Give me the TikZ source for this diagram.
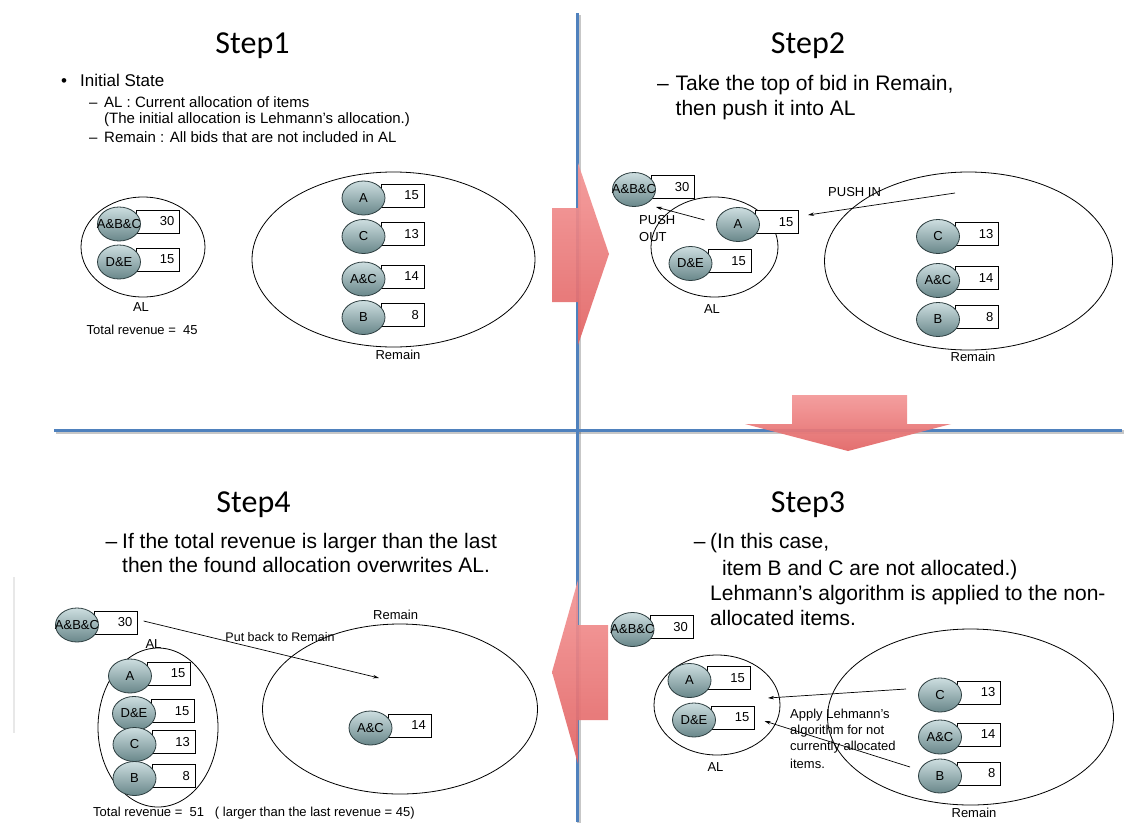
\documentclass[tikz,border=0pt]{standalone}
\usepackage{fontspec}
\setmainfont{Liberation Sans}
\newfontfamily\titlefont{Carlito}
\usetikzlibrary{shapes.geometric,arrows.meta,shadings}
\definecolor{divblue}{RGB}{79,129,189}
\definecolor{elltop}{RGB}{205,222,224}
\definecolor{ellbot}{RGB}{105,135,138}
\definecolor{ellline}{RGB}{45,62,64}
\definecolor{arrowtop}{RGB}{244,152,152}
\definecolor{arrowbot}{RGB}{226,100,100}
\definecolor{faint}{RGB}{232,232,232}
\tikzset{
  bidell/.style={ellipse, draw=ellline, line width=0.8pt, top color=elltop, bottom color=ellbot,
    minimum width=43pt, minimum height=34pt, inner sep=0pt, font=\fontsize{13}{13}\selectfont},
  bidbox/.style={draw=black, line width=0.8pt, fill=white, text width=33pt, align=right,
    inner xsep=5pt, inner ysep=0pt, minimum height=23pt, font=\fontsize{13}{13}\selectfont},
  container/.style={ellipse, draw=black, line width=0.8pt, inner sep=0pt},
  small/.style={font=\fontsize{13}{15}\selectfont, inner sep=0pt},
  bigtxt/.style={font=\fontsize{21}{25}\selectfont, inner sep=0pt, anchor=base west},
  midtxt/.style={font=\fontsize{15}{17}\selectfont, inner sep=0pt, anchor=base west},
  toptxt/.style={font=\fontsize{17}{19}\selectfont, inner sep=0pt, anchor=base west},
  ttl/.style={font=\titlefont\fontsize{32}{32}\selectfont, inner sep=0pt, anchor=base},
  thinarrow/.style={-{Stealth[length=6pt,width=3.5pt]}, line width=0.7pt},
  divider/.style={line width=3pt, draw=divblue},
  divshadow/.style={line width=3.5pt, draw=black, opacity=0.22},
  bigarrow/.style={top color=arrowtop, bottom color=arrowbot, draw=none, opacity=0.93}
}
\newcommand{\bidpair}[5]{%
  \node[bidbox, anchor=west] (#1v) at ({#2+17},{#3-2.5}) {#5};
  \node[bidell] (#1) at (#2,#3) {\makebox[0pt]{#4}};
}
\begin{document}
\begin{tikzpicture}[x=1pt,y=-1pt]
\fill[white] (0,0) rectangle (1140,822);
\useasboundingbox (0,0) rectangle (1140,822);

% faint artefact line
\draw[faint, line width=1.5pt] (14,577) -- (14,733);

% dividers
\coordinate (vtop) at (577,13);
\coordinate (vbot) at (577,822);
\coordinate (hl) at (54,430);
\coordinate (hr) at (1122,430);
\draw[divshadow] ([shift={(2,2)}]vtop) -- ([shift={(2,2)}]vbot);
\draw[divshadow] ([shift={(2,2)}]hl) -- ([shift={(2,2)}]hr);
\draw[divider] (vtop) -- (vbot);
\draw[divider] (hl) -- (hr);

% big arrows
\path[bigarrow] (552,208) -- (578,208) -- (578,163) -- (609,254) -- (578,345) -- (578,302) -- (552,302) -- cycle;
\path[bigarrow] (792,395) -- (907,395) -- (907,424) -- (951,424) -- (848,451) -- (745,424) -- (792,424) -- cycle;
\path[bigarrow] (608,625) -- (578,625) -- (578,580) -- (552,672) -- (578,764) -- (578,720) -- (608,720) -- cycle;

% ================= Step1 =================
\node[ttl] (t1) at (252.5,53) {Step1};
\node[toptxt] (s1bul) at (61,86) {•};
\node[toptxt] (s1init) at (80,86) {Initial State};
\node[midtxt] (s1d1) at (89,107) {–};
\node[midtxt] (s1l1) at (104,107) {AL : Current allocation of items};
\node[midtxt] (s1l2) at (104,123) {(The initial allocation is Lehmann’s allocation.)};
\node[midtxt] (s1d2) at (89,142) {–};
\node[midtxt] (s1l3) at (104,142) {Remain : All bids that are not included in AL};

\node[container, minimum width=124pt, minimum height=100pt] (al1) at (143,247) {};
\bidpair{s1abc}{119}{224}{A\&B\&C}{30}
\bidpair{s1de}{119}{262}{D\&E}{15}
\node[small] (s1allab) at (141,307) {AL};
\node[small, anchor=west] (s1tot) at (86.5,330) {Total revenue = \ 45};

\node[container, minimum width=283pt, minimum height=175pt] (rem1) at (393.5,259.5) {};
\bidpair{s1a}{363.5}{198}{A}{15}
\bidpair{s1c}{363.5}{236.5}{C}{13}
\bidpair{s1ac}{363.5}{279}{A\&C}{14}
\bidpair{s1b}{363.5}{317.5}{B}{8}
\node[small] (s1remlab) at (398,355) {Remain};

% ================= Step2 =================
\node[ttl] (t2) at (808,53) {Step2};
\node[bigtxt] (s2d) at (657,90) {–};
\node[bigtxt] (s2l1) at (675.5,90) {Take the top of bid in Remain,};
\node[bigtxt] (s2l2) at (675.5,115) {then push it into AL};

\node[container, minimum width=127pt, minimum height=100pt] (al2) at (714.5,247) {};
\bidpair{s2abc}{634}{189.5}{A\&B\&C}{30}
\bidpair{s2a}{738}{224.5}{A}{15}
\bidpair{s2de}{690.5}{263.5}{D\&E}{15}
\node[small] (s2allab) at (712,309) {AL};
\node[small, anchor=west] (s2push) at (639,220) {PUSH};
\node[small, anchor=west] (s2out) at (639,237) {OUT};
\coordinate (po1) at (704.5,220);
\coordinate (po2) at (656,207);
\draw[thinarrow] (po1) -- (po2);

\node[container, minimum width=288pt, minimum height=178pt] (rem2) at (968.5,261) {};
\bidpair{s2c}{938}{236.5}{C}{13}
\bidpair{s2ac}{938}{280.5}{A\&C}{14}
\bidpair{s2b}{938}{319.5}{B}{8}
\node[small] (s2remlab) at (973,357) {Remain};
\node[small, anchor=west] (s2pin) at (828,192) {PUSH IN};
\coordinate (pi1) at (955,193);
\coordinate (pi2) at (808,215);
\draw[thinarrow] (pi1) -- (pi2);

% ================= Step3 =================
\node[ttl] (t3) at (808,512) {Step3};
\node[bigtxt] (s3d) at (693.6,548) {–};
\node[bigtxt] (s3l1) at (710,548) {(In this case,};
\node[bigtxt] (s3l2) at (722,575) {item B and C are not allocated.)};
\node[bigtxt] (s3l3) at (710,600) {Lehmann’s algorithm is applied to the non-};
\node[bigtxt] (s3l4) at (710,625) {allocated items.};

\bidpair{s3abc}{632.5}{629.5}{A\&B\&C}{30}
\node[container, minimum width=126pt, minimum height=100pt] (al3) at (717,705) {};
\bidpair{s3a}{689.5}{680.5}{A}{15}
\bidpair{s3de}{694}{720}{D\&E}{15}
\node[small] (s3allab) at (715.5,767) {AL};

\node[container, minimum width=286pt, minimum height=176pt] (rem3) at (970.5,717) {};
\bidpair{s3c}{940}{695}{C}{13}
\bidpair{s3ac}{940}{737}{A\&C}{14}
\bidpair{s3b}{940}{776}{B}{8}
\node[small] (s3remlab) at (974,813) {Remain};

\node[small, anchor=west] (s3ap1) at (790,715) {Apply Lehmann’s};
\node[small, anchor=west] (s3ap2) at (790,731) {algorithm for not};
\node[small, anchor=west] (s3ap3) at (790,747) {currently allocated};
\node[small, anchor=west] (s3ap4) at (790,764) {items.};
\coordinate (ap1) at (906,689);
\coordinate (ap2) at (768,698);
\coordinate (ap3) at (910,767);
\coordinate (ap4) at (764.5,721);
\draw[thinarrow] (ap1) -- (ap2);
\draw[thinarrow] (ap3) -- (ap4);

% ================= Step4 =================
\node[ttl] (t4) at (253.5,512) {Step4};
\node[bigtxt] (s4d) at (105.5,548) {–};
\node[bigtxt] (s4l1) at (122,548) {If the total revenue is larger than the last};
\node[bigtxt] (s4l2) at (122,572) {then the found allocation overwrites AL.};

\bidpair{s4abc}{77}{625}{A\&B\&C}{30}
\node[small] (s4allab) at (153.5,644) {AL};
\node[container, minimum width=120pt, minimum height=159pt] (al4) at (158,727.5) {};
\bidpair{s4a}{130}{676}{A}{15}
\bidpair{s4de}{134}{713.5}{D\&E}{15}
\bidpair{s4c}{134.5}{744.5}{C}{13}
\bidpair{s4b}{134.5}{778.5}{B}{8}
\node[small, anchor=west] (s4tot) at (93,813) {Total revenue = \ 51 \ \ ( larger than the last revenue = 45)};

\node[small] (s4remlab) at (395.6,615) {Remain};
\node[container, minimum width=275pt, minimum height=170pt] (rem4) at (400,709) {};
\bidpair{s4ac}{370.5}{728}{A\&C}{14}
\coordinate (pb1) at (143.6,621);
\coordinate (pb2) at (379,678);
\draw[thinarrow] (pb1) -- (pb2);
\node[small, font=\fontsize{12.5}{14}\selectfont] (s4pb) at (280,637) {Put back to Remain};
\end{tikzpicture}
\end{document}
